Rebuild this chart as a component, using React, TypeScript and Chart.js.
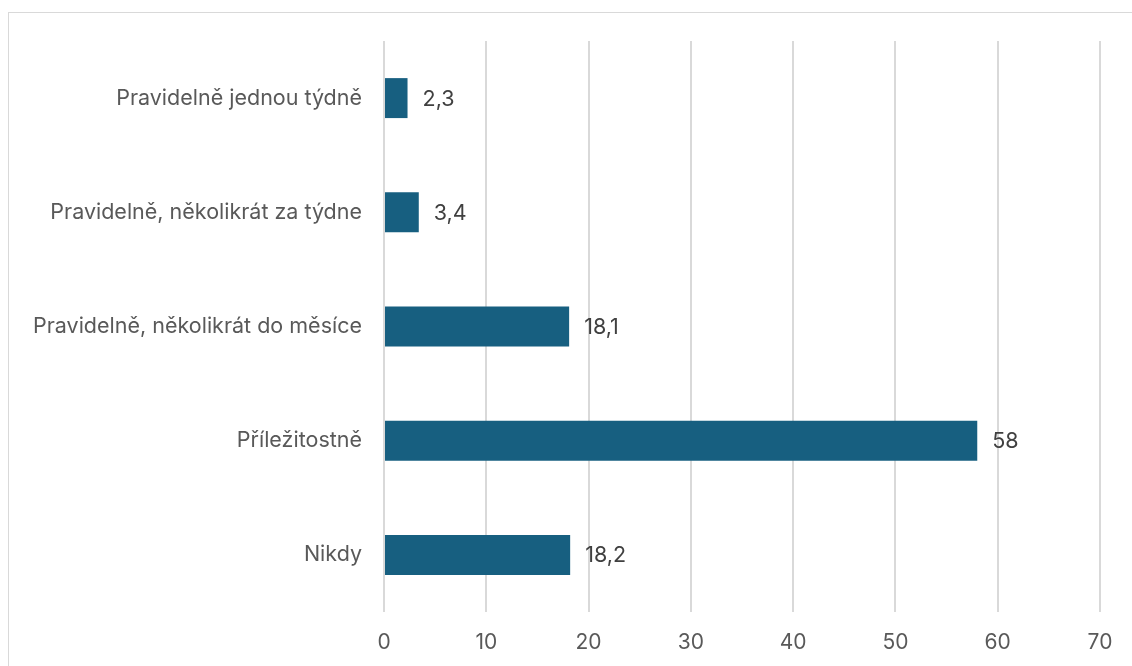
import React, { useEffect, useRef } from "react";
import { Chart, registerables } from "chart.js";

Chart.register(...registerables);

const categories = [
  "Pravidelně jednou týdně",
  "Pravidelně, několikrát za týdne",
  "Pravidelně, několikrát do měsíce",
  "Příležitostně",
  "Nikdy",
];
const values = [2.3, 3.4, 18.1, 58, 18.2];
const valueLabels = ["2,3", "3,4", "18,1", "58", "18,2"];

const FONT = "Inter, sans-serif";

const labelPlugin = {
  id: "valueLabels",
  afterDatasetsDraw(chart: any) {
    const ctx = chart.ctx;
    const meta = chart.getDatasetMeta(0);
    ctx.save();
    ctx.font = `21.5px ${FONT}`;
    ctx.fillStyle = "#404040";
    ctx.textAlign = "left";
    ctx.textBaseline = "middle";
    meta.data.forEach((bar: any, i: number) => {
      ctx.fillText(valueLabels[i], bar.x + 15, bar.y + 1);
    });
    ctx.restore();
  },
};

export default function App() {
  const ref = useRef<HTMLCanvasElement | null>(null);
  useEffect(() => {
    if (!ref.current) return;
    const chart = new Chart(ref.current, {
      type: "bar",
      data: {
        labels: categories,
        datasets: [
          {
            data: values,
            backgroundColor: "#175f80",
            barPercentage: 0.7,
            categoryPercentage: 0.5,
          },
        ],
      },
      options: {
        indexAxis: "y",
        animation: false,
        responsive: false,
        maintainAspectRatio: false,
        layout: { padding: { top: 41, right: 32, left: 0, bottom: 0 } },
        plugins: { legend: { display: false }, tooltip: { enabled: false } },
        scales: {
          x: {
            min: 0,
            max: 70,
            ticks: {
              stepSize: 10,
              color: "#595959",
              font: { family: FONT, size: 21 },
              padding: 18,
            },
            grid: { color: "#d9d9d9", lineWidth: 2, drawTicks: false },
            border: { display: false },
            afterFit: (s: any) => {
              s.height = 54;
            },
          },
          y: {
            ticks: {
              color: "#595959",
              font: { family: FONT, size: 21.5 },
              padding: 22,
            },
            grid: { display: false, drawTicks: false },
            border: { display: false },
            afterFit: (s: any) => {
              s.width = 384;
            },
          },
        },
      },
      plugins: [labelPlugin],
    });
    return () => chart.destroy();
  }, []);
  return (
    <div>
      <div
        style={{
          position: "fixed",
          left: 8,
          top: 12,
          width: 1200,
          height: 700,
          border: "1px solid #d9d9d9",
          boxSizing: "border-box",
        }}
      />
      <canvas
        ref={ref}
        width={1132}
        height={666}
        style={{ position: "fixed", left: 0, top: 0, width: 1132, height: 666 }}
      />
    </div>
  );
}
